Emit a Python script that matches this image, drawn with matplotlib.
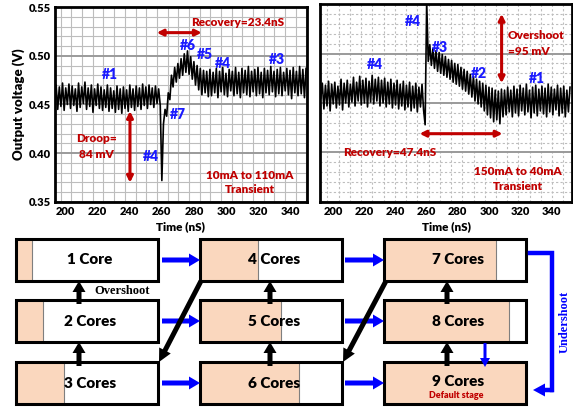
import numpy as np
import matplotlib
matplotlib.use('Agg')
from matplotlib import pyplot as plt
from matplotlib.ticker import MultipleLocator
from matplotlib.patches import Rectangle, FancyArrow

plt.rcParams['font.family'] = ['Lato', 'DejaVu Sans']
plt.rcParams['font.weight'] = 'heavy'
W = 'heavy'

# left scope trace: 10mA -> 110mA, one sample per ns starting at 193 ns
left_t0 = 193
left_v = [
    .452, .470, .445, .468, .448, .472, .444, .467, .450, .471,
    .446, .469, .449, .466, .443, .472, .447, .468, .451, .473,
    .445, .467, .448, .470, .442, .466, .449, .471, .446, .468,
    .444, .465, .447, .470, .443, .467, .446, .464, .442, .469,
    .445, .466, .441, .468, .446, .465, .443, .470, .447, .466,
    .444, .469, .448, .467, .445, .471, .449, .468, .446, .470,
    .450, .467, .447, .469, .451, .466, .449,
    .372, .430, .445, .438, .462, .455, .480, .468, .488, .473,
    .492, .477, .497, .480, .502, .483, .505, .481, .499, .476,
    .494, .470, .490, .465, .487, .460, .485, .462, .484, .458,
    .486, .459, .483, .462, .487, .457, .484, .463, .488, .460,
    .482, .458, .486, .464, .484, .459, .488, .461, .483, .457,
    .487, .462, .485, .460, .489, .458, .484, .463, .486, .459,
    .488, .461, .483, .457, .487, .462, .485, .460, .489, .463,
    .484, .458, .486, .461, .488, .459, .483, .464, .487, .460,
    .485, .456, .488, .462, .484, .459, .489, .461, .486, .457,
    .487,
]

# right scope trace: 150mA -> 40mA, one sample per ns starting at 192 ns
right_t0 = 192
right_v = [
    .455, .470, .444, .468, .447, .472, .442, .469, .449, .471,
    .445, .467, .448, .474, .443, .470, .450, .473, .446, .469,
    .451, .476, .447, .471, .452, .477, .448, .473, .450, .475,
    .446, .472, .451, .478, .449, .474, .452, .476, .447, .473,
    .450, .475, .446, .471, .449, .474, .445, .470, .448, .473,
    .444, .469, .447, .472, .443, .468, .446, .471, .442, .467,
    .445, .470, .441, .466, .446, .469, .443,
    .428, .553,
    .492, .509, .488, .505, .485, .503, .482, .501, .480, .499,
    .478, .497, .476, .494, .474, .493, .471, .490, .469, .489,
    .467, .486, .464, .484, .462, .482, .459, .479, .456, .477,
    .452, .474, .449, .472, .446, .470, .442, .468, .438, .466,
    .435, .465, .431, .463, .433, .462, .429, .464, .436, .463,
    .438, .466, .441, .463, .436, .467, .440, .464, .437, .468,
    .442, .465, .438, .469, .441, .463, .435, .466, .440, .468,
    .437, .464, .442, .467, .439, .465, .436, .469, .441, .466,
    .438, .464, .443, .468, .437, .465, .440, .467, .436, .463,
    .441, .466,
]

time_ticks = [200, 220, 240, 260, 280, 300, 320, 340]
volt_ticks = [0.35, 0.40, 0.45, 0.50, 0.55]

core_labels = [['1 Core', '2 Cores', '3 Cores'],
               ['4 Cores', '5 Cores', '6 Cores'],
               ['7 Cores', '8 Cores', '9 Cores']]
core_fill = [[0.11, 0.19, 0.34],
             [0.41, 0.57, 0.70],
             [0.79, 0.88, 1.00]]

RED = '#c00000'
BLUE = '#1a1aff'
PEACH = '#fad7be'

fig = plt.figure(figsize=(5.73, 4.09), dpi=100)
axL = fig.add_axes([55/573, 1 - 202/409, 252/573, 195/409])
axR = fig.add_axes([320/573, 1 - 202/409, 252/573, 198/409])


def style_scope(ax, xstep, xoff, dotted):
    ax.set_xlim(193.3, 350.6)
    ax.set_ylim(0.35, 0.55)
    ax.set_xticks(time_ticks)
    ax.xaxis.set_minor_locator(MultipleLocator(xstep, offset=xoff))
    ax.yaxis.set_minor_locator(MultipleLocator(0.01))
    ls = (0, (2, 2)) if dotted else '-'
    ax.grid(which='minor', color='#bdbdbd', lw=0.8, ls=ls)
    ax.grid(which='major', axis='y', color='#9a9a9a', lw=1.4)
    ax.tick_params(which='both', length=0, labelsize=8, pad=3)
    for s in ax.spines.values():
        s.set_linewidth(2)
    ax.set_xlabel('Time (nS)', fontsize=8.5, fontweight=W, labelpad=3)
    ax.set_axisbelow(True)


style_scope(axL, 20/3, 3.57, False)
axL.set_yticks(volt_ticks)
axL.set_yticklabels(['%.2f' % v for v in volt_ticks])
axL.set_ylabel('Output voltage (V)', fontsize=9.5, fontweight=W, labelpad=3)
for lab in axL.get_xticklabels() + axL.get_yticklabels():
    lab.set_fontweight(W)

style_scope(axR, 7.22, 1.26, True)
axR.set_xlim(191.5, 353.3)
axR.set_yticks(volt_ticks)
axR.set_yticklabels([])
for lab in axR.get_xticklabels():
    lab.set_fontweight(W)

tl = left_t0 + np.arange(len(left_v))
tr = right_t0 + np.arange(len(right_v))
axL.plot(tl, left_v, color='black', lw=1.2)
axR.plot(tr, right_v, color='black', lw=1.2)

# left annotations
for txt, x, y in [('#1', 227.6, 0.481), ('#6', 276.1, 0.510), ('#5', 286.9, 0.501),
                  ('#4', 298.0, 0.4925), ('#3', 331.7, 0.496), ('#7', 270.3, 0.440),
                  ('#4', 253.0, 0.3965)]:
    axL.text(x, y, txt, color=BLUE, fontsize=10, fontweight=W, ha='center', va='center')
arrow_red = dict(arrowstyle='<|-|>', color=RED, lw=2.2, mutation_scale=9, shrinkA=0, shrinkB=0)
axL.annotate('', xy=(240.1, 0.3698), xytext=(240.1, 0.4433), arrowprops=arrow_red)
axL.annotate('', xy=(256.8, 0.5237), xytext=(284.9, 0.5237), arrowprops=arrow_red)
axL.text(219.3, 0.4067, 'Droop=\n84 mV', color=RED, fontsize=8.5, fontweight=W,
         ha='center', va='center', linespacing=1.5)
axL.text(307.1, 0.534, 'Recovery=23.4nS', color=RED, fontsize=8.5, fontweight=W,
         ha='center', va='center')
axL.text(315.0, 0.3698, '10mA to 110mA\nTransient', color=RED, fontsize=8.5, fontweight=W,
         ha='center', va='center', linespacing=1.4)

# right annotations
for txt, x, y in [('#4', 251.0, 0.532), ('#3', 268.7, 0.506), ('#4', 226.7, 0.489),
                  ('#2', 293.8, 0.480), ('#1', 330.5, 0.475)]:
    axR.text(x, y, txt, color=BLUE, fontsize=10, fontweight=W, ha='center', va='center')
axR.annotate('', xy=(308.1, 0.470), xytext=(308.1, 0.540), arrowprops=arrow_red)
axR.annotate('', xy=(255.4, 0.419), xytext=(308.7, 0.419), arrowprops=arrow_red)
axR.text(311.9, 0.510, 'Overshoot\n=95 mV', color=RED, fontsize=8.5, fontweight=W,
         ha='left', va='center', linespacing=1.5)
axR.text(236.3, 0.400, 'Recovery=47.4nS', color=RED, fontsize=8.5, fontweight=W,
         ha='center', va='center')
axR.text(318.3, 0.3735, '150mA to 40mA\nTransient', color=RED, fontsize=8.5, fontweight=W,
         ha='center', va='center', linespacing=1.4)

# state diagram, axes in pixel units
axD = fig.add_axes([0, 0, 1, 194/409])
axD.set_xlim(0, 573)
axD.set_ylim(409, 215)
axD.axis('off')

col_x = [16, 200, 384]
row_y = [239, 300, 362]
box_w, box_h = 142, 42

for ci, cx in enumerate(col_x):
    for ri, ry in enumerate(row_y):
        axD.add_patch(Rectangle((cx, ry), box_w * core_fill[ci][ri], box_h,
                                fc=PEACH, ec='#7f7f7f', lw=0.8))
        axD.add_patch(Rectangle((cx, ry), box_w, box_h, fc='none', ec='black', lw=2.2))
        ty = ry + box_h / 2
        if ci == 2 and ri == 2:
            ty -= 2
            axD.text(cx + box_w/2 + 1, ry + box_h - 9, 'Default stage', color=RED,
                     fontsize=6.5, fontweight=W, ha='center', va='center')
        axD.text(cx + box_w/2 + 3, ty, core_labels[ci][ri], fontsize=11,
                 fontweight=W, ha='center', va='center')


def arrow(x0, y0, x1, y1, color, w=5, hw=13, hl=11):
    axD.add_patch(FancyArrow(x0, y0, x1 - x0, y1 - y0, width=w, head_width=hw,
                             head_length=hl, length_includes_head=True,
                             color=color, lw=0))


# blue arrows to the next column
for ri, ry in enumerate(row_y):
    cy = ry + box_h / 2
    arrow(162, cy, 200, cy, 'blue')
    arrow(345, cy, 384, cy, 'blue')

# black up arrows inside each column
for ax_x in [79, 270, 447]:
    arrow(ax_x, row_y[1] + 4, ax_x, row_y[0] + box_h, 'black')
    arrow(ax_x, row_y[2] + 4, ax_x, row_y[1] + box_h, 'black')

# diagonal jumps back to the next column's bottom row
arrow(201, 281, 159, 362, 'black', w=5, hw=13, hl=13)
arrow(386, 281, 343, 362, 'black', w=5, hw=13, hl=13)

# small blue arrow from 8 to 9 cores
arrow(485, 343, 485, 367, 'blue', w=3, hw=10, hl=9)

# undershoot bracket
axD.plot([530, 552, 552], [253, 253, 390], color='blue', lw=3.2, solid_joinstyle='miter')
arrow(553.5, 390, 533, 390, 'blue', w=4.5, hw=13, hl=12)
axD.text(565, 322, 'Undershoot', color='blue', fontsize=9, fontweight='bold',
         family='Liberation Serif', rotation=90, ha='center', va='center')
axD.text(122, 291, 'Overshoot', color='black', fontsize=9, fontweight='bold',
         family='Liberation Serif', ha='center', va='center')

fig.savefig('out.png', dpi=100)
